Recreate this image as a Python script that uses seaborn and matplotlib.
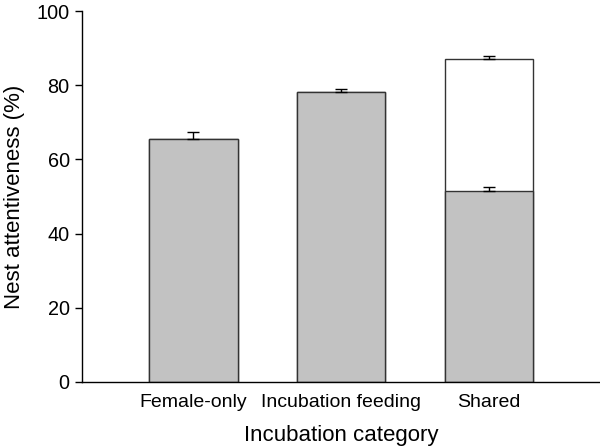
import matplotlib
matplotlib.use("Agg")
import matplotlib.pyplot as plt
import seaborn as sns
import pandas as pd

# values
categories = ["Female-only", "Incubation feeding", "Shared"]
total_att = [65.4, 78.2, 87.0]      # overall nest attentiveness
lower_att = [65.4, 78.2, 51.5]      # shaded (female) part
total_se = [1.9, 0.9, 1.0]
lower_se = [0.0, 0.0, 1.2]

sns.set_theme(style="ticks")
plt.rcParams['font.family'] = ['Liberation Sans', 'DejaVu Sans']
plt.rcParams['text.color'] = 'black'
plt.rcParams['axes.labelcolor'] = 'black'

df = pd.DataFrame({"cat": categories, "total": total_att, "lower": lower_att})

fig = plt.figure(figsize=(6, 4.46), dpi=100)
ax = fig.add_axes([0.137, 0.1435, 0.863, 0.8315])

sns.barplot(data=df, x="cat", y="total", color="white", edgecolor="#333333",
            linewidth=1.0, width=0.6, saturation=1, ax=ax)
sns.barplot(data=df, x="cat", y="lower", color="#c2c2c2", edgecolor="#333333",
            linewidth=1.0, width=0.6, saturation=1, ax=ax)

xs = list(range(len(categories)))
ax.errorbar(xs, total_att, yerr=[[0] * 3, total_se], fmt="none", ecolor="black",
            elinewidth=1.0, capsize=4.3, capthick=1.0, zorder=5)
ax.errorbar(xs[2:], lower_att[2:], yerr=[[0], lower_se[2:]], fmt="none", ecolor="black",
            elinewidth=1.0, capsize=4.3, capthick=1.0, zorder=5)

ax.set_xlim(-0.75, 2.75)
ax.set_ylim(0, 100)
ax.set_yticks([0, 20, 40, 60, 80, 100])
ax.tick_params(axis="y", direction="out", length=5, width=1, labelsize=14.3,
               colors="black", pad=4)
ax.tick_params(axis="x", length=0, labelsize=14, pad=9, colors="black")
for s in ["top", "right"]:
    ax.spines[s].set_visible(False)
for s in ["left", "bottom"]:
    ax.spines[s].set_color("black")
    ax.spines[s].set_linewidth(1.0)

ax.set_xlabel("Incubation category", fontsize=16, labelpad=10)
ax.set_ylabel("Nest attentiveness (%)", fontsize=16, labelpad=8)

fig.savefig("out.png", dpi=100)
